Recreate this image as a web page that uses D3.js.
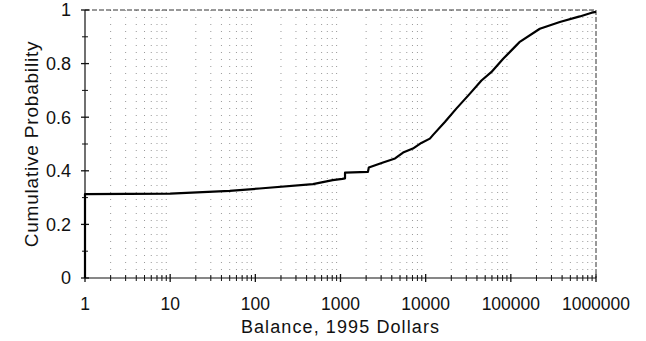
<!DOCTYPE html>
<html>
<head>
<meta charset="utf-8">
<script src="https://cdn.jsdelivr.net/npm/d3@7"></script>
<style>
  body { margin: 0; background: #fff; }
  text { font-family: "Liberation Sans", Arial, sans-serif; fill: #111; }
</style>
</head>
<body>
<svg class="chart"></svg>
<script>
// donnees
let balances = [1, 1, 10, 50, 112, 475, 810, 1050, 1130, 1130, 2100, 2150, 3160, 4370, 5430, 7080, 8900,
  11200, 12300, 16800, 22900, 33100, 45200, 58900, 81300, 116000, 126000, 219000, 376000, 646000, 890000, 1000000];
let cumProb = [0, 0.313, 0.315, 0.325, 0.334, 0.35, 0.365, 0.37, 0.372, 0.393, 0.396, 0.412, 0.431, 0.446, 0.468, 0.483, 0.504,
  0.52, 0.535, 0.582, 0.632, 0.688, 0.737, 0.768, 0.818, 0.868, 0.88, 0.93, 0.955, 0.976, 0.99, 0.993];
let xTicks = [1, 10, 100, 1000, 10000, 100000, 1000000];
let yTicks = [0, 0.2, 0.4, 0.6, 0.8, 1];
let yMinorTicks = [0.1, 0.3, 0.5, 0.7, 0.9];

let w = 646, h = 341;
let margin = {top: 10, right: 50, bottom: 63, left: 85};
let width = w - margin.left - margin.right,
    height = h - margin.top - margin.bottom;

let svg = d3.select(".chart").attr("width", w).attr("height", h);
let g = svg.append("g").attr("transform", "translate(" + margin.left + "," + margin.top + ")");

let x = d3.scaleLog().domain([1, 1000000]).range([0, width]);
let y = d3.scaleLinear().domain([0, 1]).range([height, 0]);

// valeurs 2..9 de chaque decade
let minor = [];
for (let e = 0; e < 6; e++) {
  for (let k = 2; k <= 9; k++) minor.push(k * Math.pow(10, e));
}

// grille pointillee verticale
g.append("g").selectAll("line")
  .data(minor)
  .enter().append("line")
    .attr("x1", d => x(d)).attr("x2", d => x(d))
    .attr("y1", 0).attr("y2", height)
    .attr("stroke", "#999")
    .attr("stroke-width", 1)
    .attr("stroke-dasharray", "1,6");

// cadre haut et droite
g.append("line").attr("x1", 0).attr("x2", width).attr("y1", 0).attr("y2", 0)
  .attr("stroke", "#333").attr("stroke-dasharray", "5,2");
g.append("line").attr("x1", width).attr("x2", width).attr("y1", 0).attr("y2", height)
  .attr("stroke", "#333").attr("stroke-dasharray", "5,2");

// axe x
let ax = g.append("g").attr("transform", "translate(0," + height + ")");
ax.append("line").attr("x1", 0).attr("x2", width).attr("stroke", "#111").attr("stroke-width", 1.2);
ax.selectAll(".mn").data(minor).enter().append("line")
  .attr("x1", d => x(d)).attr("x2", d => x(d)).attr("y1", -3).attr("y2", 3)
  .attr("stroke", "#111");
ax.selectAll(".mj").data(xTicks).enter().append("line")
  .attr("x1", d => x(d)).attr("x2", d => x(d)).attr("y1", -4).attr("y2", 4)
  .attr("stroke", "#111").attr("stroke-width", 1.3);
ax.selectAll("text").data(xTicks).enter().append("text")
  .attr("x", d => x(d)).attr("y", 32)
  .attr("text-anchor", "middle")
  .style("font-size", "17.5px")
  .text(d => d3.format("d")(d));

// axe y
let ay = g.append("g");
ay.append("line").attr("y1", 0).attr("y2", height).attr("stroke", "#111").attr("stroke-width", 1.2);
ay.selectAll(".mn").data(yMinorTicks).enter().append("line")
  .attr("y1", d => y(d)).attr("y2", d => y(d)).attr("x1", -3).attr("x2", 3)
  .attr("stroke", "#111");
ay.selectAll(".mj").data(yTicks).enter().append("line")
  .attr("y1", d => y(d)).attr("y2", d => y(d)).attr("x1", -4).attr("x2", 4)
  .attr("stroke", "#111").attr("stroke-width", 1.3);
ay.selectAll("text").data(yTicks).enter().append("text")
  .attr("x", -14).attr("y", d => y(d)).attr("dy", "0.36em")
  .attr("text-anchor", "end")
  .style("font-size", "18px")
  .text(d => d3.format("")(d));

// titres
svg.append("text")
  .attr("x", margin.left + width / 2).attr("y", 333)
  .attr("text-anchor", "middle")
  .style("font-size", "18px")
  .style("letter-spacing", "1.1px")
  .text("Balance, 1995 Dollars");
svg.append("text")
  .attr("transform", "translate(38," + (margin.top + height / 2) + ") rotate(-90)")
  .attr("text-anchor", "middle")
  .style("font-size", "19px")
  .style("letter-spacing", "0.8px")
  .text("Cumulative Probability");

// courbe de probabilite cumulee
let pts = balances.map((b, i) => [b, cumProb[i]]);
let line = d3.line()
  .x(d => x(d[0]))
  .y(d => y(d[1]));
g.append("path")
  .datum(pts)
  .attr("fill", "none")
  .attr("stroke", "#000")
  .attr("stroke-width", 2.2)
  .attr("stroke-linejoin", "round")
  .attr("d", line);
</script>
</body>
</html>
